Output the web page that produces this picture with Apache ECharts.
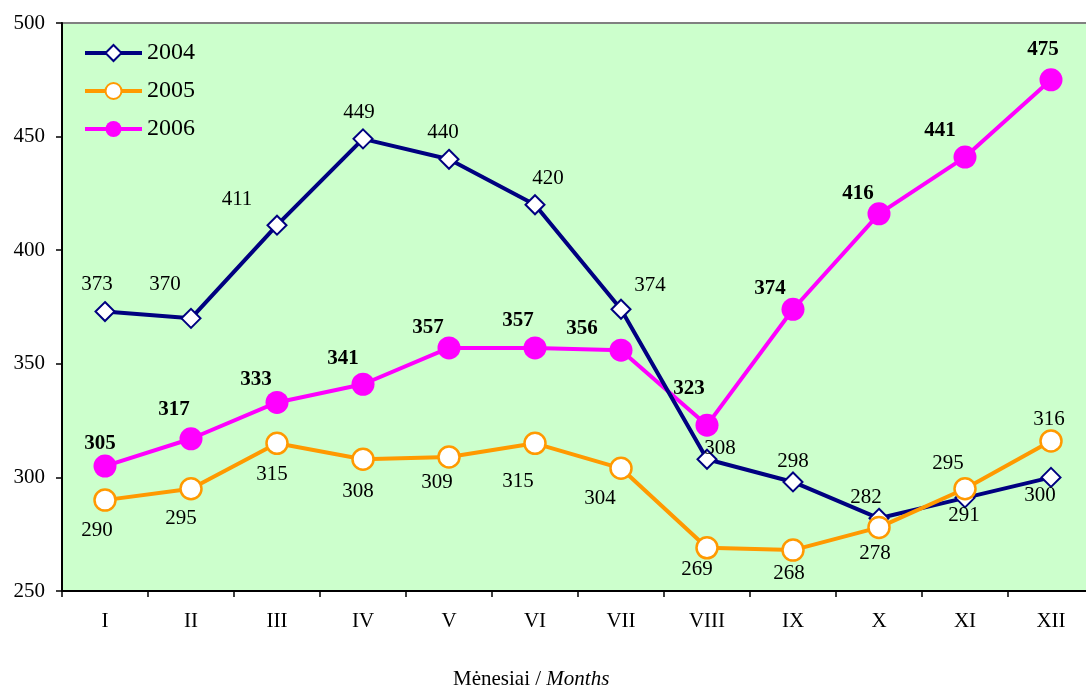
<!DOCTYPE html>
<html>
<head>
<meta charset="utf-8">
<script src="https://cdn.jsdelivr.net/npm/echarts@6/dist/echarts.min.js"></script>
<style>html,body{margin:0;padding:0;background:#fff;overflow:hidden}#c{width:1100px;height:686px}</style>
</head>
<body>
<div id="c"></div>
<script>
const months = ['I','II','III','IV','V','VI','VII','VIII','IX','X','XI','XII'];
const s2004 = [373,370,411,449,440,420,374,308,298,282,291,300];
const s2005 = [290,295,315,308,309,315,304,269,268,278,295,316];
const s2006 = [305,317,333,341,357,357,356,323,374,416,441,475];
const yTicks = {min:250, max:500, interval:50};

// label placement (pixel offsets from each marker centre)
const off2004 = [[-8,-27],[-26,-34],[-40,-26],[-4,-26],[-6,-27],[13,-26],[29,-24],[13,-11],[0,-20],[-13,-21],[-1,18],[-11,18]];
const off2005 = [[-8,30],[-10,30],[-5,31],[-5,32],[-12,26],[-17,38],[-21,30],[-10,22],[-4,23],[-4,26],[-17,-25],[-2,-22]];
const off2006 = [[-5,-22],[-17,-29],[-21,-23],[-20,-26],[-21,-20],[-17,-27],[-39,-22],[-18,-37],[-23,-21],[-21,-20],[-25,-26],[-8,-30]];

const FONT = "'Liberation Serif','Times New Roman',serif";
function withLabels(vals, offs){
  return vals.map((v,i)=>({value:v, label:{offset:offs[i]}}));
}
const chart = echarts.init(document.getElementById('c'));
chart.setOption({
  animation:false,
  backgroundColor:'#ffffff',
  textStyle:{fontFamily:FONT},
  grid:{left:62, top:23, width:1032, height:568, show:true, backgroundColor:'#CCFFCC', borderColor:'#808080', borderWidth:2, containLabel:false},
  legend:{
    orient:'vertical', left:78, top:36, itemWidth:57, itemHeight:20, itemGap:14,
    lineStyle:{width:4},
    textStyle:{fontFamily:FONT, fontSize:24, color:'#000'},
    data:['2004','2005','2006']
  },
  title:{
    text:'{a|Mėnesiai / }{b|Months}', left:448, top:664,
    textStyle:{rich:{a:{fontFamily:FONT,fontSize:21,fontWeight:'normal',color:'#000'},b:{fontFamily:FONT,fontSize:21,fontWeight:'normal',fontStyle:'italic',color:'#000'}}}
  },
  xAxis:{
    type:'category', data:months, boundaryGap:true,
    axisLine:{lineStyle:{color:'#000', width:2}},
    axisTick:{show:true, length:6, lineStyle:{color:'#000', width:1.5}},
    axisLabel:{fontFamily:FONT, fontSize:21, color:'#000', margin:20},
    splitLine:{show:false}
  },
  yAxis:{
    type:'value', min:yTicks.min, max:yTicks.max, interval:yTicks.interval,
    axisLine:{show:true, lineStyle:{color:'#000', width:2}},
    axisTick:{show:true, length:6, lineStyle:{color:'#000', width:1.5}},
    axisLabel:{fontFamily:FONT, fontSize:21, color:'#000', margin:17},
    splitLine:{show:false}
  },
  series:[
    {name:'2004', type:'line', data:withLabels(s2004, off2004), symbol:'diamond', symbolSize:19, z:3,
     lineStyle:{color:'#000080', width:4}, itemStyle:{color:'#fff', borderColor:'#000080', borderWidth:2},
     label:{show:true, position:'inside', fontFamily:FONT, fontSize:21, color:'#000'}},
    {name:'2005', type:'line', data:withLabels(s2005, off2005), symbol:'circle', symbolSize:21, z:4,
     lineStyle:{color:'#FF9900', width:4}, itemStyle:{color:'#fff', borderColor:'#FF9900', borderWidth:2.5},
     label:{show:true, position:'inside', fontFamily:FONT, fontSize:21, color:'#000'}},
    {name:'2006', type:'line', data:withLabels(s2006, off2006), symbol:'circle', symbolSize:23, z:2,
     lineStyle:{color:'#FF00FF', width:4}, itemStyle:{color:'#FF00FF', borderColor:'#FF00FF', borderWidth:0},
     label:{show:true, position:'inside', fontFamily:FONT, fontSize:21, fontWeight:'bold', color:'#000'}}
  ]
});
</script>
</body>
</html>
